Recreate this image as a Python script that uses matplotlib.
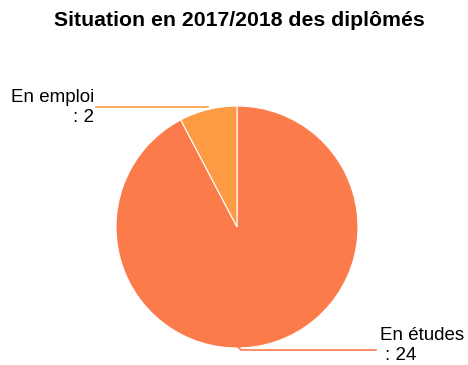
import matplotlib
matplotlib.use("Agg")
import matplotlib.pyplot as plt

categories = ["En études", "En emploi"]
values = [24, 2]
colors = ["#FB7B4A", "#FD9A44"]

plt.rcParams['font.family'] = ['Liberation Sans', 'DejaVu Sans']

fig = plt.figure(figsize=(4.68, 3.65), dpi=100)
ax = fig.add_axes([0, 0, 1, 1])

cx, cy, r = 237, 227, 121
# y axis runs downward, so counterclock=True reads as clockwise on screen
wedges, _ = ax.pie(values, colors=colors, startangle=-90, counterclock=True,
                   center=(cx, cy), radius=r,
                   wedgeprops=dict(edgecolor='white', linewidth=0.8))
ax.set_xlim(0, 468)
ax.set_ylim(365, 0)
ax.set_aspect('equal')
ax.axis('off')

fs = 13.5
# leader line and label for "En emploi"
ax.plot([208, 96], [107, 107], color=colors[1], lw=1.2)
ax.text(94, 98, f"{categories[1]}", ha='right', va='center', fontsize=fs)
ax.text(94, 118, f": {values[1]}", ha='right', va='center', fontsize=fs)

# leader line and label for "En études"
ax.plot([238, 241, 376], [347, 350, 350], color=colors[0], lw=1.2)
ax.text(380, 335, f"{categories[0]}", ha='left', va='center', fontsize=fs)
ax.text(385, 356, f": {values[0]}", ha='left', va='center', fontsize=fs)

ax.text(239, 20, "Situation en 2017/2018 des diplômés", ha='center', va='center',
        fontsize=15.3, fontweight='bold')

fig.savefig("out.png", dpi=100)
